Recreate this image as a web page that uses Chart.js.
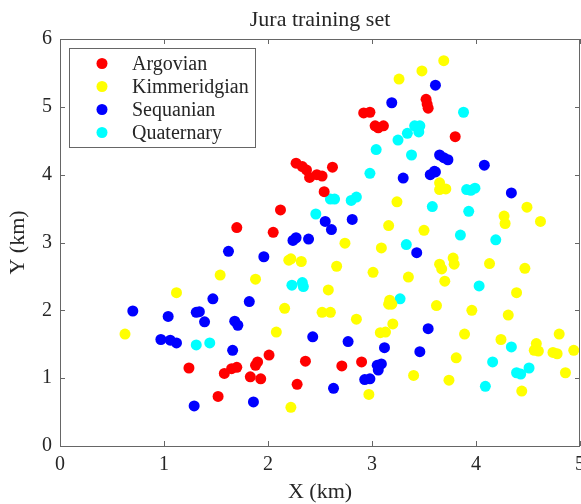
<!DOCTYPE html>
<html><head><meta charset="utf-8">
<script src="https://cdn.jsdelivr.net/npm/chart.js@4/dist/chart.umd.min.js"></script>
<style>html,body{margin:0;padding:0;background:#fff}#wrap{width:581px;height:504px}</style>
</head><body><div id="wrap"><canvas id="c" width="581" height="504"></canvas></div>
<script>
const chartTitle = "Jura training set";
const seriesNames = ["Argovian", "Kimmeridgian", "Sequanian", "Quaternary"];
const xTicks = [0, 1, 2, 3, 4, 5];
const yTicks = [0, 1, 2, 3, 4, 5, 6];

const argovianX = [1.24,1.52,1.58,1.65,1.70,1.70,2.05,2.12,2.27,2.33,2.37,2.40,2.47,2.52,2.62,2.54,2.01,1.88,1.90,1.83,1.93,2.36,2.28,2.71,2.90,2.92,2.98,3.03,3.06,3.11,3.52,3.53,3.54,3.80];
const argovianY = [1.15,0.73,1.07,1.14,1.16,3.22,3.15,3.48,4.17,4.12,4.07,3.96,4.00,3.98,4.11,3.75,1.34,1.19,1.24,1.02,0.99,1.25,0.91,1.18,1.24,4.91,4.92,4.72,4.69,4.72,5.11,5.04,4.98,4.56];

const kimmX = [1.12,1.54,0.625,2.74,2.22,2.32,2.20,2.66,1.88,2.58,2.16,2.52,2.60,2.85,2.08,2.22,3.69,3.48,3.26,3.65,3.65,3.71,3.24,3.16,3.50,3.09,3.01,3.35,3.65,3.67,3.78,3.79,3.70,3.17,3.16,3.19,3.62,3.96,3.20,3.08,3.13,3.89,3.81,3.40,3.74,2.97,4.49,4.27,4.28,4.62,4.13,4.47,4.39,4.31,4.24,4.58,4.56,4.60,4.80,4.74,4.78,4.94,4.86,4.44];
const kimmY = [2.26,2.52,1.65,2.99,2.76,2.72,2.74,2.65,2.46,2.30,2.03,1.97,1.97,1.87,1.68,0.57,5.68,5.53,5.41,3.88,3.78,3.79,3.60,3.25,3.18,2.92,2.56,2.49,2.68,2.61,2.77,2.68,2.43,2.15,2.09,2.09,2.07,2.00,1.80,1.67,1.68,1.65,1.30,1.04,0.97,0.76,3.52,3.39,3.28,3.31,2.69,2.62,2.26,1.93,1.57,1.51,1.41,1.40,1.65,1.38,1.36,1.41,1.08,0.81];

const sequX = [1.62,1.47,0.70,1.34,1.04,1.31,1.39,1.68,1.71,0.97,1.06,1.12,1.66,1.29,2.55,2.61,2.81,2.27,2.24,2.39,1.96,1.82,2.43,2.77,2.63,1.86,3.61,3.19,3.65,3.69,3.73,3.60,3.30,3.56,3.61,3.43,4.08,4.34,3.54,3.12,3.46,3.05,3.09,3.06,2.93,2.98];
const sequY = [2.87,2.17,1.99,1.98,1.91,1.97,1.83,1.84,1.78,1.57,1.56,1.52,1.41,0.59,3.31,3.19,3.34,3.07,3.03,3.05,2.79,2.13,1.61,1.54,0.85,0.65,5.32,5.06,4.29,4.25,4.22,4.05,3.95,4.00,4.04,2.85,4.14,3.73,1.73,1.45,1.39,1.19,1.21,1.12,0.98,0.99];

const quatX = [1.31,1.44,2.60,2.64,2.80,2.85,2.46,2.23,2.33,2.34,3.88,3.41,3.46,3.45,3.34,3.25,3.04,3.38,2.98,3.58,3.91,3.95,3.99,3.93,3.85,3.33,3.27,4.03,4.19,4.34,4.16,4.39,4.43,4.51,4.09];
const quatY = [1.49,1.52,3.64,3.64,3.62,3.67,3.42,2.37,2.41,2.35,4.92,4.72,4.72,4.63,4.61,4.51,4.37,4.29,4.02,3.53,3.78,3.77,3.80,3.46,3.11,2.97,2.17,2.36,3.04,1.46,1.24,1.08,1.06,1.15,0.88];

const colors = ["#ff0000", "#ffff00", "#0000ff", "#00ffff"];
const xs = [argovianX, kimmX, sequX, quatX];
const ys = [argovianY, kimmY, sequY, quatY];

const datasets = seriesNames.map((name, i) => ({
  label: name,
  data: xs[i].map((x, j) => ({x: x, y: ys[i][j]})),
  backgroundColor: colors[i],
  borderColor: colors[i],
  borderWidth: 0,
  pointRadius: 5.5,
  pointHoverRadius: 5.5
}));

const SERIF = "'Liberation Serif', 'DejaVu Serif', serif";
const AXIS = "#666666";
const TXT = "#262626";

const framePlugin = {
  id: 'frame',
  afterDatasetsDraw(chart) {
    const {ctx, chartArea: a, scales: {x, y}} = chart;
    ctx.save();
    ctx.strokeStyle = AXIS;
    ctx.lineWidth = 1;
    ctx.beginPath();
    xTicks.forEach(v => {
      const px = Math.round(x.getPixelForValue(v)) + 0.5;
      ctx.moveTo(px, a.bottom); ctx.lineTo(px, a.bottom - 5);
      ctx.moveTo(px, a.top); ctx.lineTo(px, a.top + 5);
    });
    yTicks.forEach(v => {
      const py = Math.round(y.getPixelForValue(v)) + 0.5;
      ctx.moveTo(a.left, py); ctx.lineTo(a.left + 5, py);
      ctx.moveTo(a.right, py); ctx.lineTo(a.right - 5, py);
    });
    ctx.stroke();
    ctx.strokeRect(Math.round(a.left) + 0.5, Math.round(a.top) + 0.5, Math.round(a.right - a.left) - 1, Math.round(a.bottom - a.top));

    // title centred over the axes
    ctx.fillStyle = TXT;
    ctx.font = "22px " + SERIF;
    ctx.textAlign = "center";
    ctx.textBaseline = "middle";
    ctx.fillText(chartTitle, (a.left + a.right) / 2, 20);

    // x tick labels
    ctx.font = "20px " + SERIF;
    xTicks.forEach(v => {
      ctx.fillText(String(v), x.getPixelForValue(v), a.bottom + 19);
    });

    // legend box
    const bx = 69.5, by = 48.5, bw = 186, bh = 99;
    ctx.fillStyle = "#ffffff";
    ctx.fillRect(bx, by, bw, bh);
    ctx.strokeStyle = AXIS;
    ctx.strokeRect(bx, by, bw, bh);
    ctx.font = "20px " + SERIF;
    ctx.textBaseline = "middle";
    ctx.textAlign = "left";
    chart.data.datasets.forEach((ds, i) => {
      const cy = 63.5 + i * 23;
      ctx.fillStyle = ds.backgroundColor;
      ctx.beginPath();
      ctx.arc(102, cy, 5.5, 0, Math.PI * 2);
      ctx.fill();
      ctx.fillStyle = TXT;
      ctx.fillText(ds.label, 132, cy + 1);
    });
    ctx.restore();
  }
};

new Chart(document.getElementById('c'), {
  type: 'scatter',
  data: {datasets},
  options: {
    responsive: false,
    animation: false,
    events: [],
    layout: {autoPadding: false, padding: {left: 0, right: 1, top: 39, bottom: 0}},
    plugins: {
      legend: {display: false},
      tooltip: {enabled: false},
      title: {display: false}
    },
    scales: {
      x: {
        type: 'linear', min: 0, max: 5,
        afterBuildTicks: s => { s.ticks = xTicks.map(v => ({value: v})); },
        afterFit: s => { s.height = 58; },
        grid: {display: false, drawTicks: false},
        border: {display: false},
        ticks: {display: false},
        title: {display: true, text: "X (km)", color: TXT, font: {family: SERIF, size: 22}, padding: {top: 0, bottom: -1}}
      },
      y: {
        type: 'linear', min: 0, max: 6,
        afterBuildTicks: s => { s.ticks = yTicks.map(v => ({value: v})); },
        afterFit: s => { s.width = 60; },
        grid: {display: false, drawTicks: false},
        border: {display: false},
        ticks: {color: TXT, font: {family: SERIF, size: 20}, padding: 8},
        title: {display: true, text: "Y (km)", color: TXT, font: {family: SERIF, size: 22}, padding: {top: 5, bottom: 0}}
      }
    }
  },
  plugins: [framePlugin]
});
</script>
</body></html>
